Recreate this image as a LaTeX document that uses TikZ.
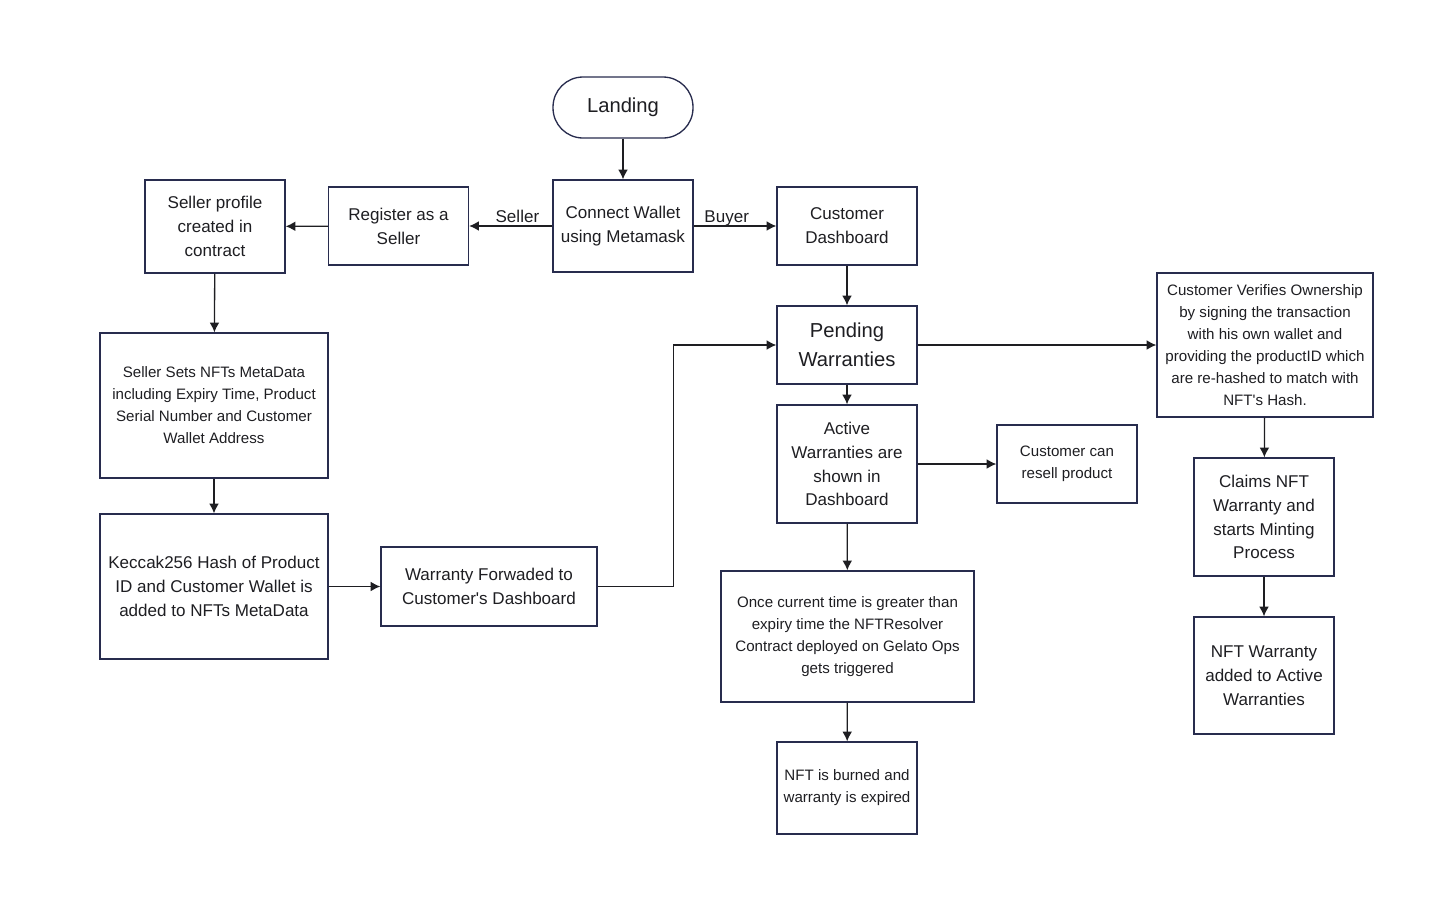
\documentclass[tikz,border=0pt]{standalone}
\usepackage{fontspec}
\setmainfont{Liberation Sans}
\usepackage{tikz}
\usetikzlibrary{arrows.meta, positioning, calc}
\definecolor{myframe}{RGB}{40,44,78}
\definecolor{mydark}{RGB}{30,30,34}
\newcommand{\midfont}{\fontsize{9.7}{13.6}\selectfont}
\newcommand{\smallfont}{\fontsize{8.6}{12.5}\selectfont}
\newcommand{\bigfont}{\fontsize{11.5}{16.4}\selectfont}
\tikzset{
  block/.style={rectangle, draw=myframe, fill=white, align=center,
    font=\midfont, text=mydark, line width=0.75pt, inner sep=2pt},
  smallblock/.style={block, font=\smallfont},
  bigblock/.style={block, font=\bigfont},
  terminal/.style={rectangle, rounded corners=0.6cm, draw=myframe, fill=white,
    align=center, font=\bigfont, text=mydark, line width=0.75pt},
  arrow/.style={-{Latex[length=5.5pt, width=5.5pt]}, line width=0.75pt, color=mydark},
  edgelabel/.style={font=\midfont, text=mydark, inner sep=1.5pt, text depth=0pt}
}

\begin{document}
\begin{tikzpicture}[x=0.02cm, y=-0.02cm]
  \useasboundingbox (0,0) rectangle (1440,910);

  % Top row
  \node[terminal, minimum width=2.8cm, minimum height=1.22cm] (landing) at (623,107.5) {Landing};
  \node[block, minimum width=2.8cm, minimum height=1.84cm] (connect) at (623,226) {Connect Wallet\\using Metamask};
  \node[block, minimum width=2.8cm, minimum height=1.56cm] (register) at (398.5,226) {Register as a\\Seller};
  \node[block, minimum width=2.8cm, minimum height=1.86cm] (profile) at (215,226.5) {Seller profile\\created in\\contract};
  \node[block, minimum width=2.8cm, minimum height=1.56cm] (custdash) at (847,226) {Customer\\Dashboard};

  % Seller side
  \node[smallblock, minimum width=4.56cm, minimum height=2.9cm] (metadata) at (214,405.5) {Seller Sets NFTs MetaData\\including Expiry Time, Product\\Serial Number and Customer\\Wallet Address};
  \node[block, minimum width=4.56cm, minimum height=2.9cm] (keccak) at (214,586.5) {Keccak256 Hash of Product\\ID and Customer Wallet is\\added to NFTs MetaData};
  \node[block, minimum width=4.32cm, minimum height=1.58cm] (forward) at (489,586.5) {Warranty Forwaded to\\Customer\textquotesingle s Dashboard};

  % Buyer side
  \node[bigblock, minimum width=2.8cm, minimum height=1.56cm] (pending) at (847,345) {Pending\\Warranties};
  \node[block, minimum width=2.8cm, minimum height=2.36cm] (active) at (847,464) {Active\\Warranties are\\shown in\\Dashboard};
  \node[smallblock, minimum width=2.8cm, minimum height=1.56cm] (resell) at (1067,464) {Customer can\\resell product};
  \node[smallblock, minimum width=5.06cm, minimum height=2.62cm] (resolver) at (847.5,636.5) {Once current time is greater than\\expiry time the NFTResolver\\Contract deployed on Gelato Ops\\gets triggered};
  \node[smallblock, minimum width=2.8cm, minimum height=1.84cm] (burned) at (847,788) {NFT is burned and\\warranty is expired};

  % Verification column
  \node[smallblock, minimum width=4.32cm, minimum height=2.88cm] (verify) at (1265,345) {Customer Verifies Ownership\\by signing the transaction\\with his own wallet and\\providing the productID which\\are re-hashed to match with\\NFT\textquotesingle s Hash.};
  \node[block, minimum width=2.8cm, minimum height=2.36cm] (claims) at (1264,517) {Claims NFT\\Warranty and\\starts Minting\\Process};
  \node[block, minimum width=2.8cm, minimum height=2.34cm] (added) at (1264,675.5) {NFT Warranty\\added to Active\\Warranties};

  % Connectors
  \draw[arrow] (landing) -- (connect);
  \draw[arrow] (connect) -- node[edgelabel, above, pos=0.42] {Seller} (register);
  \draw[arrow] (register) -- (profile);
  \draw[arrow] (connect) -- node[edgelabel, above, pos=0.40] {Buyer} (custdash);
  \draw[arrow] (profile) -- (metadata);
  \draw[arrow] (metadata) -- (keccak);
  \draw[arrow] (keccak) -- (forward);
  \draw[arrow] (forward.east) -- ++(76,0) |- (pending.west);
  \draw[arrow] (custdash) -- (pending);
  \draw[arrow] (pending) -- (active);
  \draw[arrow] (pending) -- (verify);
  \draw[arrow] (active) -- (resell);
  \draw[arrow] (active) -- (resolver);
  \draw[arrow] (resolver) -- (burned);
  \draw[arrow] (verify) -- (claims);
  \draw[arrow] (claims) -- (added);
\end{tikzpicture}
\end{document}
